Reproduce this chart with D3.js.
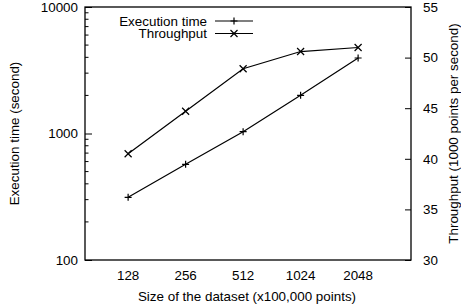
<!DOCTYPE html>
<html>
<head>
<meta charset="utf-8">
<script src="https://cdn.jsdelivr.net/npm/d3@7"></script>
<style>
  body { margin: 0; background: #fff; }
  svg { display: block; font-family: "Liberation Sans", Arial, sans-serif; }
</style>
</head>
<body>
<svg id="chart" width="461" height="306"></svg>
<script>
// data
const sizes = ['128', '256', '512', '1024', '2048'];
const execTime = [313, 571, 1033, 2004, 3953];
const throughput = [40.5, 44.7, 48.9, 50.6, 51.0];
const leftTicks = [100, 1000, 10000];
const rightTicks = [30, 35, 40, 45, 50, 55];

const svg = d3.select('#chart');
const margin = { top: 7, right: 50, bottom: 46, left: 85 };
const width = +svg.attr('width');
const height = +svg.attr('height');
const innerWidth = width - margin.left - margin.right;
const innerHeight = height - margin.top - margin.bottom;
const fs = '13.4px';

const g = svg.append('g')
    .attr('transform', 'translate(' + margin.left + ',' + margin.top + ')');

// x is category index, with gnuplot-like padding either side
const xScale = d3.scaleLinear()
    .domain([-0.75, 4.92])
    .range([0, innerWidth]);

const yScale = d3.scaleLog()
    .domain([100, 10000])
    .range([innerHeight, 0]);

const y2Scale = d3.scaleLinear()
    .domain([30, 55])
    .range([innerHeight, 0]);

// minor log ticks
const minorTicks = [];
[100, 1000].forEach(dec => {
  for (let k = 2; k <= 9; k++) minorTicks.push(dec * k);
});

g.selectAll('.minor')
  .data(minorTicks)
  .enter().append('line')
    .attr('x1', 0).attr('x2', 3.5)
    .attr('y1', d => yScale(d)).attr('y2', d => yScale(d))
    .attr('stroke', '#000').attr('stroke-width', 1);

// left axis
const yAxis = g.append('g')
    .call(d3.axisLeft(yScale).tickValues(leftTicks).tickFormat(d3.format('d'))
      .tickSizeInner(-7).tickSizeOuter(0).tickPadding(7));
yAxis.select('.domain').remove();
yAxis.selectAll('text').style('font-size', fs).attr('fill', '#000');

// right axis
const y2Axis = g.append('g')
    .attr('transform', 'translate(' + innerWidth + ',0)')
    .call(d3.axisRight(y2Scale).tickValues(rightTicks)
      .tickSizeInner(-6).tickSizeOuter(0).tickPadding(12));
y2Axis.select('.domain').remove();
y2Axis.selectAll('text').style('font-size', fs).attr('fill', '#000');

// x tick labels (no tick marks)
g.selectAll('.xlabel')
  .data(sizes)
  .enter().append('text')
    .attr('x', (d, i) => xScale(i))
    .attr('y', innerHeight + 19.5)
    .attr('text-anchor', 'middle')
    .style('font-size', fs)
    .text(d => d);

// frame
g.append('rect')
    .attr('width', innerWidth).attr('height', innerHeight)
    .attr('fill', 'none').attr('stroke', '#000').attr('stroke-width', 1.3);

// lines
const execLine = d3.line()
    .x((d, i) => xScale(i))
    .y(d => yScale(d));
const thrLine = d3.line()
    .x((d, i) => xScale(i))
    .y(d => y2Scale(d));

g.append('path').datum(execTime)
    .attr('d', execLine).attr('fill', 'none').attr('stroke', '#000').attr('stroke-width', 1.2);
g.append('path').datum(throughput)
    .attr('d', thrLine).attr('fill', 'none').attr('stroke', '#000').attr('stroke-width', 1.2);

// markers
const plus = (sel, s) => sel.append('path')
    .attr('d', 'M' + (-s) + ',0H' + s + 'M0,' + (-s) + 'V' + s)
    .attr('stroke', '#000').attr('stroke-width', 1.2).attr('fill', 'none');
const cross = (sel, s) => sel.append('path')
    .attr('d', 'M' + (-s) + ',' + (-s) + 'L' + s + ',' + s + 'M' + (-s) + ',' + s + 'L' + s + ',' + (-s))
    .attr('stroke', '#000').attr('stroke-width', 1.2).attr('fill', 'none');

execTime.forEach((d, i) => {
  plus(g.append('g').attr('transform', 'translate(' + xScale(i) + ',' + yScale(d) + ')'), 3.5);
});
throughput.forEach((d, i) => {
  cross(g.append('g').attr('transform', 'translate(' + xScale(i) + ',' + y2Scale(d) + ')'), 3.5);
});

// legend
const legend = [
  { name: 'Execution time', mark: plus },
  { name: 'Throughput', mark: cross }
];
legend.forEach((l, i) => {
  const ly = 14 + i * 12.5;
  g.append('text')
      .attr('x', 122).attr('y', ly)
      .attr('dy', '0.35em')
      .attr('text-anchor', 'end')
      .style('font-size', fs)
      .text(l.name);
  g.append('line')
      .attr('x1', 130).attr('x2', 168)
      .attr('y1', ly).attr('y2', ly)
      .attr('stroke', '#000').attr('stroke-width', 1.2);
  l.mark(g.append('g').attr('transform', 'translate(149,' + ly + ')'), 3.5);
});

// axis titles
svg.append('text')
    .attr('transform', 'translate(19,' + (margin.top + innerHeight / 2) + ') rotate(-90)')
    .attr('text-anchor', 'middle')
    .style('font-size', fs)
    .text('Execution time (second)');

svg.append('text')
    .attr('transform', 'translate(458,' + (margin.top + innerHeight / 2) + ') rotate(-90)')
    .attr('text-anchor', 'middle')
    .style('font-size', fs)
    .text('Throughput (1000 points per second)');

svg.append('text')
    .attr('x', margin.left + 162)
    .attr('y', 300.5)
    .attr('text-anchor', 'middle')
    .style('font-size', fs)
    .text('Size of the dataset (x100,000 points)');
</script>
</body>
</html>
